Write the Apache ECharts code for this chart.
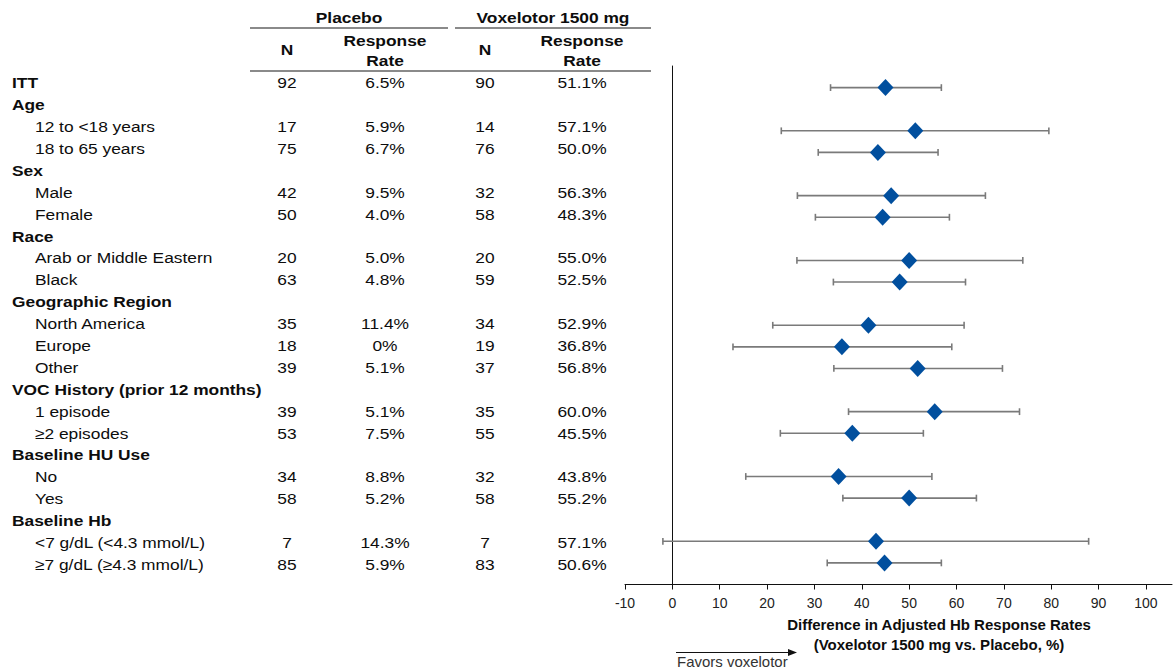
<!DOCTYPE html>
<html><head><meta charset="utf-8">
<script src="https://cdn.jsdelivr.net/npm/echarts@6/dist/echarts.min.js"></script>
<style>html,body{margin:0;padding:0;background:#fff}#c{width:1173px;height:670px}</style>
</head><body><div id="c"></div>
<script>
// ---------- data ----------
const rowLabels = ['ITT','Age','12 to <18 years','18 to 65 years','Sex','Male','Female','Race',
  'Arab or Middle Eastern','Black','Geographic Region','North America','Europe','Other',
  'VOC History (prior 12 months)','1 episode','\u22652 episodes','Baseline HU Use','No','Yes',
  'Baseline Hb','<7 g/dL (<4.3 mmol/L)','\u22657 g/dL (\u22654.3 mmol/L)'];
const rowLevels = [0,0,1,1,0,1,1,0,1,1,0,1,1,1,0,1,1,0,1,1,0,1,1];
const placeboN = [92,null,17,75,null,42,50,null,20,63,null,35,18,39,null,39,53,null,34,58,null,7,85];
const placeboRate = ['6.5%',null,'5.9%','6.7%',null,'9.5%','4.0%',null,'5.0%','4.8%',null,'11.4%','0%','5.1%',null,'5.1%','7.5%',null,'8.8%','5.2%',null,'14.3%','5.9%'];
const voxN = [90,null,14,76,null,32,58,null,20,59,null,34,19,37,null,35,55,null,32,58,null,7,83];
const voxRate = ['51.1%',null,'57.1%','50.0%',null,'56.3%','48.3%',null,'55.0%','52.5%',null,'52.9%','36.8%','56.8%',null,'60.0%','45.5%',null,'43.8%','55.2%',null,'57.1%','50.6%'];
const diffEst = [45.0,null,51.3,43.4,null,46.2,44.4,null,50.0,48.0,null,41.4,35.8,51.8,null,55.4,38.0,null,35.1,50.0,null,43.0,44.8];
const ciLow  = [33.4,null,23.0,30.8,null,26.4,30.2,null,26.3,34.0,null,21.2,12.8,34.1,null,37.2,22.8,null,15.5,36.0,null,-2.0,32.7];
const ciHigh = [56.8,null,79.5,56.1,null,66.1,58.5,null,74.0,61.9,null,61.6,59.0,69.7,null,73.3,53.0,null,54.8,64.2,null,87.9,56.8];
const xTicks = [-10,0,10,20,30,40,50,60,70,80,90,100];
const headerGroups = ['Placebo','Voxelotor 1500 mg'];
const headerCols = ['N','Response\nRate'];
const axisTitle = ['Difference in Adjusted Hb Response Rates', '(Voxelotor 1500 mg vs. Placebo, %)'];

// ---------- build ----------
const FONT = 'Liberation Sans, Arial, sans-serif';
const SX = 1.12;
const COLX = {label0: 12, label1: 35, pN: 287, pR: 385, vN: 485, vR: 582};

const pointData = [], errData = [];
diffEst.forEach((d, i) => {
  if (d !== null) {
    pointData.push([d, i]);
    errData.push([ciLow[i], ciHigh[i], i]);
  }
});

function txt(x, y, s, align, bold, size, sx) {
  return {
    type: 'text', x: x, y: y, scaleX: sx || SX,
    style: { text: s, x: 0, y: 0, align: align, verticalAlign: 'middle',
      font: (bold ? 'bold ' : '') + size + 'px ' + FONT, fill: '#0d0d0d' },
    silent: true
  };
}

const chart = echarts.init(document.getElementById('c'), null, {renderer: 'svg'});
const option = {
  animation: false,
  backgroundColor: '#fff',
  grid: [
    {left: 625, right: 1, top: 66, bottom: 85.5, containLabel: false},
    {left: 0, right: 0, top: 71.75, bottom: 94.8, containLabel: false}
  ],
  xAxis: [
    {
      type: 'value', gridIndex: 0, min: -10, max: 105.5,
      axisLine: {onZero: false, lineStyle: {color: '#111', width: 1}},
      axisTick: {show: true, length: 5, customValues: xTicks, lineStyle: {color: '#111'}},
      axisLabel: {customValues: xTicks, margin: 11, color: '#222', fontFamily: FONT, fontSize: 14},
      splitLine: {show: false}
    },
    {type: 'value', gridIndex: 1, min: 0, max: 1173, show: false}
  ],
  yAxis: [
    {
      type: 'value', gridIndex: 0, min: -1, max: 23, inverse: true,
      axisLine: {show: true, onZero: true, lineStyle: {color: '#111', width: 1}},
      axisTick: {show: false}, axisLabel: {show: false}, splitLine: {show: false}
    },
    {type: 'value', gridIndex: 1, min: -0.5, max: 22.5, inverse: true, show: false}
  ],
  series: [
    {
      type: 'custom', xAxisIndex: 0, yAxisIndex: 0, silent: true,
      encode: {x: [0, 1], y: 2},
      data: errData,
      renderItem: function (params, api) {
        const a = api.coord([api.value(0), api.value(2)]);
        const b = api.coord([api.value(1), api.value(2)]);
        const h = 3.4;
        const st = {stroke: '#7a7a7a', lineWidth: 1.6};
        return {type: 'group', children: [
          {type: 'line', shape: {x1: a[0], y1: a[1], x2: b[0], y2: b[1]}, style: st},
          {type: 'line', shape: {x1: a[0], y1: a[1]-h, x2: a[0], y2: a[1]+h}, style: st},
          {type: 'line', shape: {x1: b[0], y1: b[1]-h, x2: b[0], y2: b[1]+h}, style: st}
        ]};
      },
      z: 2
    },
    {
      type: 'scatter', xAxisIndex: 0, yAxisIndex: 0, silent: true,
      symbol: 'diamond', symbolSize: [16, 17],
      itemStyle: {color: '#014f9e', opacity: 1},
      data: pointData, z: 3
    },
    {
      type: 'custom', xAxisIndex: 1, yAxisIndex: 1, silent: true,
      data: rowLabels.map((_, i) => [0, i]),
      renderItem: function (params, api) {
        const i = params.dataIndex;
        const y = api.coord([0, i])[1];
        const lvl = rowLevels[i];
        const kids = [txt(lvl === 0 ? COLX.label0 : COLX.label1, y, rowLabels[i], 'left', lvl === 0, 15.5)];
        if (placeboN[i] !== null) kids.push(txt(COLX.pN, y, String(placeboN[i]), 'center', false, 15.5));
        if (placeboRate[i] !== null) kids.push(txt(COLX.pR, y, placeboRate[i], 'center', false, 15.5));
        if (voxN[i] !== null) kids.push(txt(COLX.vN, y, String(voxN[i]), 'center', false, 15.5));
        if (voxRate[i] !== null) kids.push(txt(COLX.vR, y, voxRate[i], 'center', false, 15.5));
        return {type: 'group', children: kids};
      }
    }
  ],
  graphic: [
    txt(349, 17, headerGroups[0], 'center', true, 15.5),
    txt(553, 17, headerGroups[1], 'center', true, 15.5),
    {type: 'line', shape: {x1: 250, y1: 28, x2: 448, y2: 28}, style: {stroke: '#8a8a8a', lineWidth: 2}, silent: true},
    {type: 'line', shape: {x1: 455, y1: 28, x2: 651, y2: 28}, style: {stroke: '#8a8a8a', lineWidth: 2}, silent: true},
    {type: 'line', shape: {x1: 250, y1: 71, x2: 651, y2: 71}, style: {stroke: '#8a8a8a', lineWidth: 2}, silent: true},
    txt(COLX.pN, 49, headerCols[0], 'center', true, 15.5),
    txt(COLX.pR, 40, 'Response', 'center', true, 15.5),
    txt(COLX.pR, 60, 'Rate', 'center', true, 15.5),
    txt(COLX.vN, 49, headerCols[0], 'center', true, 15.5),
    txt(COLX.vR, 40, 'Response', 'center', true, 15.5),
    txt(COLX.vR, 60, 'Rate', 'center', true, 15.5),
    txt(939, 624, axisTitle[0], 'center', true, 15, 1.0),
    txt(939, 644, axisTitle[1], 'center', true, 15, 1.0),
    {type: 'line', shape: {x1: 676, y1: 652.5, x2: 789, y2: 652.5}, style: {stroke: '#111', lineWidth: 1.2}, silent: true},
    {type: 'polygon', shape: {points: [[788, 649], [797, 652.5], [788, 656]]}, style: {fill: '#111'}, silent: true},
    {type: 'text', x: 677, y: 662, scaleX: 1.07, silent: true,
      style: {text: 'Favors voxelotor', x: 0, y: 0, align: 'left', verticalAlign: 'middle', font: '14px ' + FONT, fill: '#333'}}
  ]
};
chart.setOption(option);
</script>
</body></html>
